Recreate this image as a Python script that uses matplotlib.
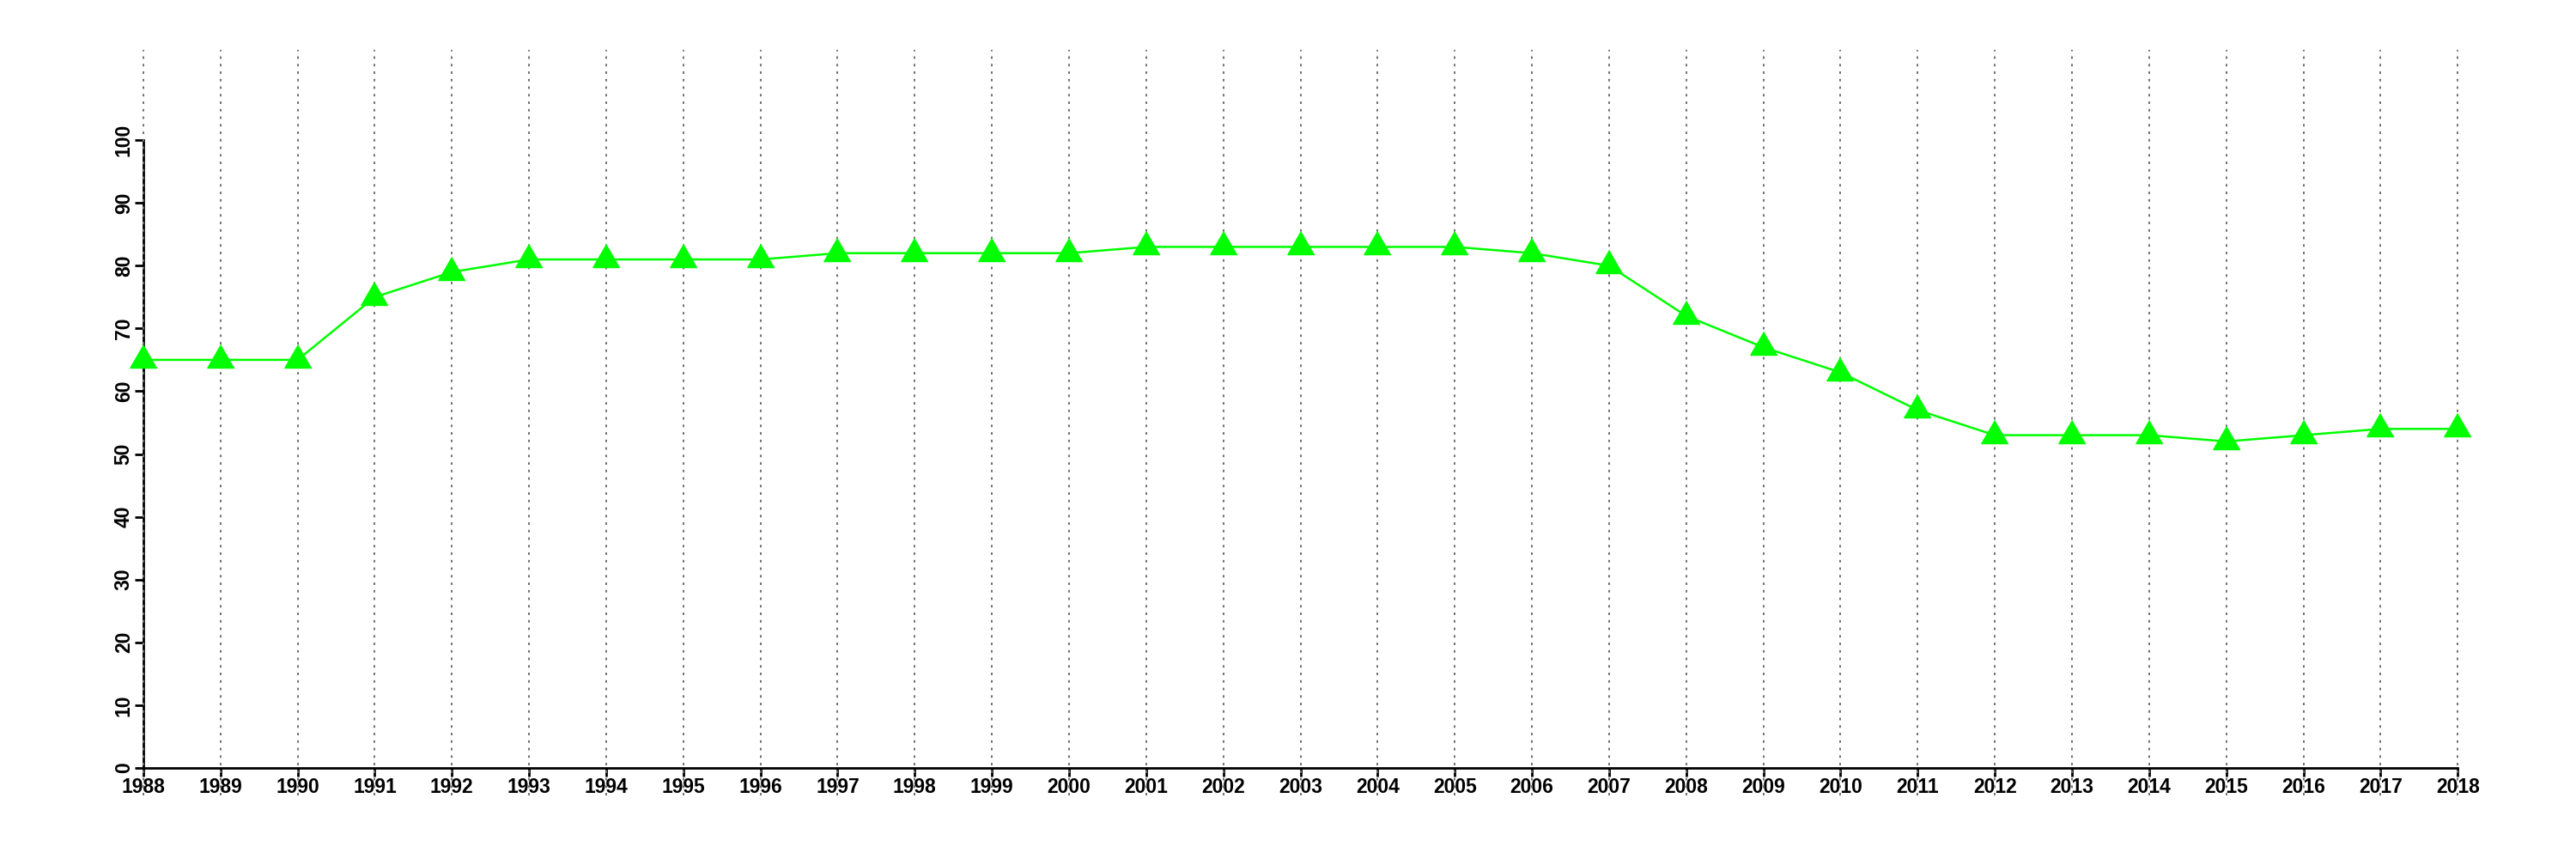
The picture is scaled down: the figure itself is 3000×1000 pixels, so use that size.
import numpy as np
import matplotlib.pyplot as plt

years = list(range(1988, 2019))
values = [65, 65, 65, 75, 79, 81, 81, 81, 81, 82, 82, 82, 82, 83, 83,
          83, 83, 83, 82, 80, 72, 67, 63, 57, 53, 53, 53, 52, 53, 54, 54]
yticks = [0, 10, 20, 30, 40, 50, 60, 70, 80, 90, 100]

plt.rcParams['font.family'] = ['Liberation Sans', 'DejaVu Sans']

fig = plt.figure(figsize=(30, 10), dpi=100)
ax = fig.add_axes([0.0197, 0.074, 0.9703, 0.868])

# spines first: set_position resets the ticks
for s in ['top', 'right']:
    ax.spines[s].set_visible(False)
ax.spines['left'].set_position(('data', 1988))
ax.spines['bottom'].set_position(('data', 0))
ax.spines['left'].set_bounds(0, 100)
ax.spines['bottom'].set_bounds(1988, 2018)
ax.spines['left'].set_linewidth(2)
ax.spines['bottom'].set_linewidth(2)

# equilateral triangle, centred on its centroid
tri = [(0, 1), (-0.866, -0.5), (0.866, -0.5)]

ax.vlines(years, 0, 1, transform=ax.get_xaxis_transform(), colors='#707070',
          linewidth=1.4, linestyles=(0, (1.5, 3)), zorder=3)
ax.plot(years, values, '-', color='#00FF00', linewidth=1.8, zorder=4)
ax.plot(years, values, linestyle='none', marker=tri, color='#00FF00',
        markersize=26, zorder=5)

ax.set_xlim(1986.8, 2019.2)
ax.set_ylim(-4.4, 114.4)
ax.set_xticks(years)
ax.set_xticklabels([str(y) for y in years], fontsize=16.5, fontweight='bold')
ax.set_yticks(yticks)
ax.set_yticklabels([str(v) for v in yticks], fontsize=16.5, fontweight='bold',
                   rotation=90, va='center')
ax.tick_params(axis='both', length=7, width=2, pad=1)

fig.savefig('out.png')
